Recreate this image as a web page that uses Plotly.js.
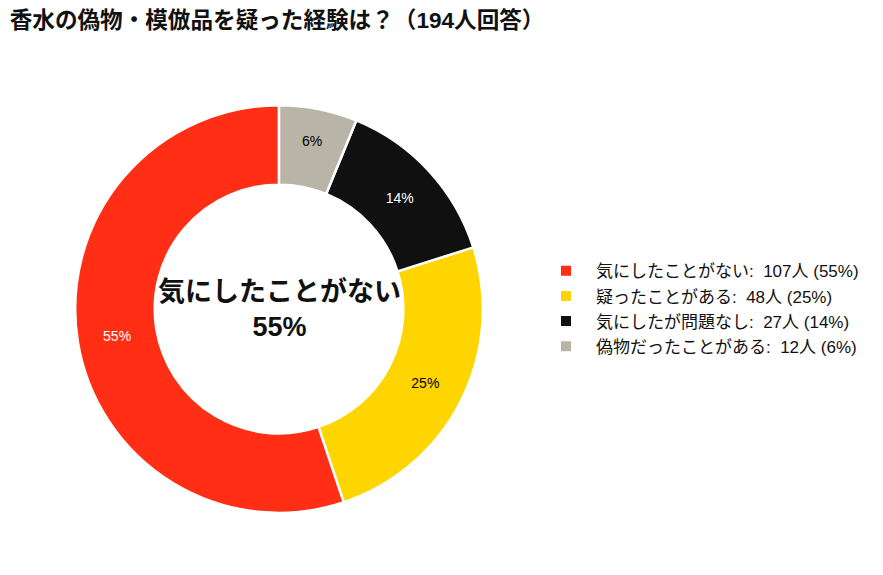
<!DOCTYPE html>
<html>
<head>
<meta charset="utf-8">
<script src="https://cdn.plot.ly/plotly-3.0.1.min.js"></script>
<style>
  html, body { margin: 0; padding: 0; background: #fff; }
  #chart { width: 883px; height: 575px; }
</style>
</head>
<body>
<div id="chart"></div>
<script>
const categories = ["気にしたことがない", "疑ったことがある", "気にしたが問題なし", "偽物だったことがある"];
const counts = [107, 48, 27, 12];
const sliceColors = ["#FF2E14", "#FFD500", "#101010", "#B8B4A8"];
const labelColors = ["white", "black", "white", "black"];
const totalAnswers = 194;

const fontFamily = "Liberation Sans, Noto Sans CJK JP, sans-serif";

// legend text like "気にしたことがない:  107人 (55%)"
const legendLabels = categories.map((cat, i) => {
  const pct = Math.round((counts[i] / totalAnswers) * 100);
  return `${cat}:  ${counts[i]}人 (${pct}%)`;
});

const topPct = Math.round((counts[0] / totalAnswers) * 100);

// plotly's counterclockwise pie ends the first slice at `rotation`,
// so shift it back so the first slice starts at 12 o'clock
const startShift = -360 * counts[0] / counts.reduce((a, b) => a + b, 0);

const data = [
  {
    type: "pie",
    labels: legendLabels,
    values: counts,
    hole: 0.61,
    sort: false,
    direction: "counterclockwise",
    rotation: startShift,
    marker: { colors: sliceColors, line: { color: "white", width: 2.5 } },
    texttemplate: "%{percent:.0%}",
    textposition: "inside",
    insidetextorientation: "horizontal",
    insidetextfont: { size: 14, color: labelColors, family: fontFamily },
    hoverinfo: "label",
    domain: { x: [0.085, 0.547], y: [0.108, 0.817] },
  },
];

const layout = {
  width: 883,
  height: 575,
  margin: { l: 0, r: 0, t: 0, b: 0 },
  paper_bgcolor: "white",
  font: { family: fontFamily, color: "#111" },
  title: {
    text: "<b>香水の偽物・模倣品を疑った経験は？（194人回答）</b>",
    font: { size: 22.6, family: fontFamily, color: "#111" },
    x: 0.011,
    xanchor: "left",
    xref: "paper",
    y: 0.965,
    yanchor: "middle",
    yref: "container",
  },
  showlegend: true,
  legend: {
    x: 0.607,
    xanchor: "left",
    y: 0.463,
    yanchor: "middle",
    font: { size: 17, family: fontFamily, color: "#111" },
    itemsizing: "constant",
    itemwidth: 50,
  },
  annotations: [
    {
      text: `<b>${categories[0]}<br>${topPct}%</b>`,
      x: 0.316,
      y: 0.4625,
      xref: "paper",
      yref: "paper",
      xanchor: "center",
      yanchor: "middle",
      showarrow: false,
      font: { size: 27, family: fontFamily, color: "#111" },
    },
  ],
};

const config = { responsive: false, displayModeBar: false };

Plotly.newPlot("chart", data, layout, config);
</script>
</body>
</html>
